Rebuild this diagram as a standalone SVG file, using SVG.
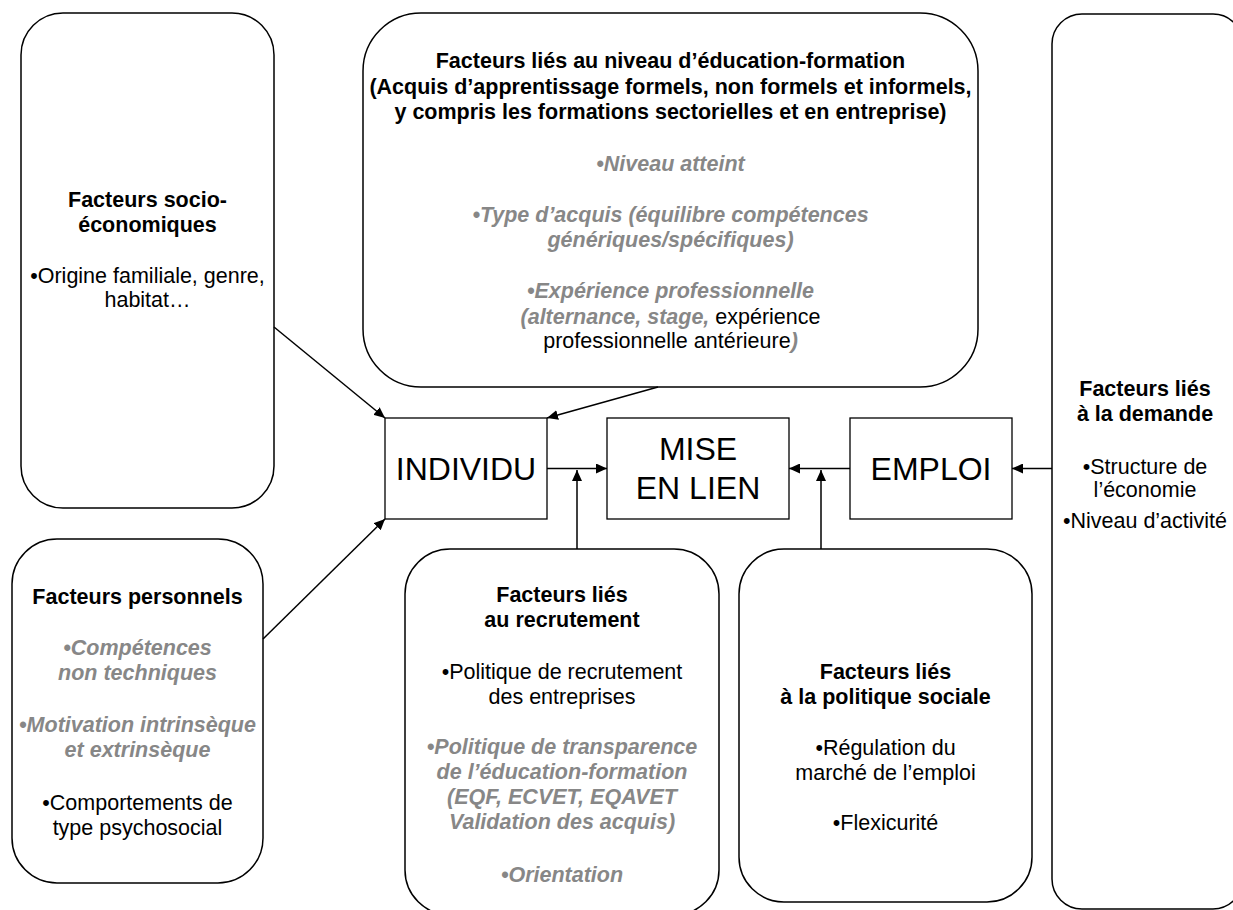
<svg xmlns="http://www.w3.org/2000/svg" width="1233" height="910" viewBox="0 0 1233 910">
  <defs>
    <marker id="arrow" markerUnits="userSpaceOnUse" markerWidth="12" markerHeight="10" refX="11" refY="5" orient="auto">
      <path d="M0,0 L11,5 L0,10 z" fill="#000"/>
    </marker>
    <style>
      .box { fill: #fff; stroke: #000; stroke-width: 1.5; }
      .core { fill: #fff; stroke: #000; stroke-width: 1.3; }
      text { font-family: 'Liberation Sans', Arial, Helvetica, sans-serif; font-size: 21.5px; text-anchor: middle; fill: #000; }
      .b { font-weight: bold; }
      .g { font-weight: bold; font-style: italic; fill: #878787; }
      .big { font-size: 32px; }
      .link { fill: none; stroke: #000; stroke-width: 1.5; }
    </style>
  </defs>
  <rect width="1233" height="910" fill="#fff"/>

  <!-- Socio-economic factors -->
  <g id="socio">
    <rect class="box" x="21" y="13" width="253" height="495" rx="42" ry="42"/>
    <text class="b" x="147.5" y="207">Facteurs socio-</text>
    <text class="b" x="147.5" y="232">économiques</text>
    <text x="147.5" y="283">•Origine familiale, genre,</text>
    <text x="147.5" y="307">habitat…</text>
  </g>

  <!-- Education / training factors -->
  <g id="education">
    <rect class="box" x="363" y="13" width="615" height="374" rx="58" ry="58"/>
    <text class="b" x="670.5" y="68">Facteurs liés au niveau d’éducation-formation</text>
    <text class="b" x="670.5" y="94">(Acquis d’apprentissage formels, non formels et informels,</text>
    <text class="b" x="670.5" y="119">y compris les formations sectorielles et en entreprise)</text>
    <text class="g" x="670.5" y="171">•Niveau atteint</text>
    <text class="g" x="670.5" y="222">•Type d’acquis (équilibre compétences</text>
    <text class="g" x="670.5" y="247">génériques/spécifiques)</text>
    <text class="g" x="670.5" y="298">•Expérience professionnelle</text>
    <text x="670.5" y="324"><tspan class="g">(alternance, stage,</tspan> expérience</text>
    <text x="670.5" y="348">professionnelle antérieure<tspan class="g">)</tspan></text>
  </g>

  <!-- Demand-side factors -->
  <g id="demande">
    <rect class="box" x="1052" y="14" width="191" height="895" rx="30" ry="30"/>
    <text class="b" x="1145" y="396">Facteurs liés</text>
    <text class="b" x="1145" y="421">à la demande</text>
    <text x="1145" y="474">•Structure de</text>
    <text x="1145" y="497">l’économie</text>
    <text x="1145" y="528">•Niveau d’activité</text>
  </g>

  <!-- Core chain -->
  <g id="individu">
    <rect class="core" x="385" y="418" width="162" height="101"/>
    <text class="big" x="466" y="480">INDIVIDU</text>
  </g>
  <g id="mise-en-lien">
    <rect class="core" x="607" y="418" width="182" height="101"/>
    <text class="big" x="698" y="460">MISE</text>
    <text class="big" x="698" y="499">EN LIEN</text>
  </g>
  <g id="emploi">
    <rect class="core" x="850" y="418" width="162" height="101"/>
    <text class="big" x="931" y="480">EMPLOI</text>
  </g>

  <!-- Personal factors -->
  <g id="personnels">
    <rect class="box" x="12" y="539" width="251" height="344" rx="45" ry="45"/>
    <text class="b" x="137.5" y="604">Facteurs personnels</text>
    <text class="g" x="137.5" y="655">•Compétences</text>
    <text class="g" x="137.5" y="680">non techniques</text>
    <text class="g" x="137.5" y="732">•Motivation intrinsèque</text>
    <text class="g" x="137.5" y="757">et extrinsèque</text>
    <text x="137.5" y="810">•Comportements de</text>
    <text x="137.5" y="835">type psychosocial</text>
  </g>

  <!-- Recruitment factors -->
  <g id="recrutement">
    <rect class="box" x="405" y="549" width="314" height="366" rx="45" ry="45"/>
    <text class="b" x="562" y="602">Facteurs liés</text>
    <text class="b" x="562" y="627">au recrutement</text>
    <text x="562" y="679">•Politique de recrutement</text>
    <text x="562" y="704">des entreprises</text>
    <text class="g" x="562" y="754">•Politique de transparence</text>
    <text class="g" x="562" y="779">de l’éducation-formation</text>
    <text class="g" x="562" y="804">(EQF, ECVET, EQAVET</text>
    <text class="g" x="562" y="829">Validation des acquis)</text>
    <text class="g" x="562" y="882">•Orientation</text>
  </g>

  <!-- Social policy factors -->
  <g id="politique-sociale">
    <rect class="box" x="739" y="549" width="293" height="353" rx="45" ry="45"/>
    <text class="b" x="885.5" y="679">Facteurs liés</text>
    <text class="b" x="885.5" y="704">à la politique sociale</text>
    <text x="885.5" y="755">•Régulation du</text>
    <text x="885.5" y="780">marché de l’emploi</text>
    <text x="885.5" y="830">•Flexicurité</text>
  </g>

  <!-- Connectors -->
  <g id="connectors">
    <line class="link" x1="274" y1="327" x2="385" y2="418" marker-end="url(#arrow)"/>
    <line class="link" x1="658" y1="387" x2="547" y2="418" marker-end="url(#arrow)"/>
    <line class="link" x1="263" y1="639" x2="385" y2="519" marker-end="url(#arrow)"/>
    <line class="link" x1="547" y1="468.5" x2="607" y2="468.5" marker-end="url(#arrow)"/>
    <line class="link" x1="577" y1="549" x2="577" y2="470" marker-end="url(#arrow)"/>
    <line class="link" x1="850" y1="468.5" x2="789" y2="468.5" marker-end="url(#arrow)"/>
    <line class="link" x1="821" y1="549" x2="821" y2="470" marker-end="url(#arrow)"/>
    <line class="link" x1="1052" y1="468.5" x2="1012" y2="468.5" marker-end="url(#arrow)"/>
  </g>
</svg>
